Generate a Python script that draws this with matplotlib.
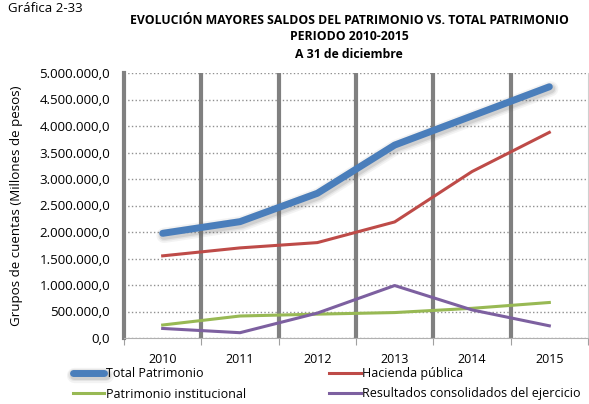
import numpy as np
import matplotlib.pyplot as plt
import matplotlib.patheffects as pe
from matplotlib.ticker import FuncFormatter

plt.rcParams['font.family'] = ['Open Sans', 'DejaVu Sans']

years = ['2010', '2011', '2012', '2013', '2014', '2015']
total = [1975000, 2195000, 2730000, 3640000, 4190000, 4740000]
hacienda = [1550000, 1700000, 1800000, 2190000, 3140000, 3880000]
institucional = [245000, 415000, 450000, 480000, 560000, 670000]
resultados = [180000, 100000, 470000, 990000, 530000, 230000]

fig = plt.figure(figsize=(5.89, 4.04), dpi=100)
ax = fig.add_axes([124/589, 1-338/404, 464/589, 265/404])

x = np.arange(len(years)) + 0.5
glow = [pe.SimpleLineShadow(offset=(1, -1.5), shadow_color='#606060', alpha=a, linewidth=w)
        for a, w in [(0.07, 11), (0.1, 8.5), (0.15, 6.5)]]
l_tot, = ax.plot(x, total, color='#4a7ebb', lw=5, solid_capstyle='round', zorder=5,
                 path_effects=glow + [pe.Normal()], label='Total Patrimonio')
l_hac, = ax.plot(x, hacienda, color='#be4b48', lw=2.2, zorder=4, label='Hacienda pública')
l_ins, = ax.plot(x, institucional, color='#98b954', lw=2.2, zorder=4, label='Patrimonio institucional')
l_res, = ax.plot(x, resultados, color='#7d60a0', lw=2.2, zorder=4, label='Resultados consolidados del ejercicio')

ax.set_xlim(0, 6)
ax.set_ylim(0, 5000000)
ax.set_yticks(np.arange(0, 5000001, 500000))
ax.yaxis.set_major_formatter(FuncFormatter(lambda v, p: f'{v:,.1f}'.replace(',', 'X').replace('.', ',').replace('X', '.')))
ax.set_xticks(np.arange(0, 7))
ax.set_xticklabels([])
ax.set_xticks(x, minor=True)
ax.set_xticklabels(years, minor=True)
ax.tick_params(axis='x', which='minor', length=0, pad=11, labelsize=9)
ax.tick_params(axis='x', which='major', length=5, color='#a0a0a0', direction='out')
ax.tick_params(axis='y', length=0, labelsize=9.6, pad=10)

ax.yaxis.grid(True, linestyle=':', color='#909090', lw=1)
for b in range(1, 6):
    ax.axvline(b, color='#808080', lw=3, zorder=2)
ax.spines['top'].set_visible(False)
ax.spines['right'].set_color('#d0d0d0')
ax.spines['left'].set_color('#808080')
ax.spines['left'].set_linewidth(3)
ax.spines['bottom'].set_color('#b0b0b0')
ax.set_axisbelow(True)

ax.set_ylabel('Grupos de cuentas (Millones de pesos)', fontsize=9.6)
ax.yaxis.set_label_coords(-101/464, 0.5)

fig.text(8/589, 1-8/404, 'Gráfica 2-33', fontsize=9.5, va='center', ha='left')
fig.text(349/589, 1-20/404, 'EVOLUCIÓN MAYORES SALDOS DEL PATRIMONIO VS. TOTAL PATRIMONIO',
         fontsize=8.8, fontweight='bold', ha='center', va='center')
fig.text(349/589, 1-37/404, 'PERIODO 2010-2015', fontsize=8.8, fontweight='bold', ha='center', va='center')
fig.text(349/589, 1-55/404, 'A 31 de diciembre', fontsize=8.8, fontweight='bold', ha='center', va='center')

fig.legend([l_tot, l_ins, l_hac, l_res], [l.get_label() for l in [l_tot, l_ins, l_hac, l_res]],
           loc='upper left', bbox_to_anchor=(73/589, 1-367/404), ncol=2, frameon=False,
           fontsize=9, handlelength=2.5, handletextpad=0.15, columnspacing=6.65,
           labelspacing=0.6, borderaxespad=0, borderpad=0)

fig.savefig('out.png', dpi=100)
